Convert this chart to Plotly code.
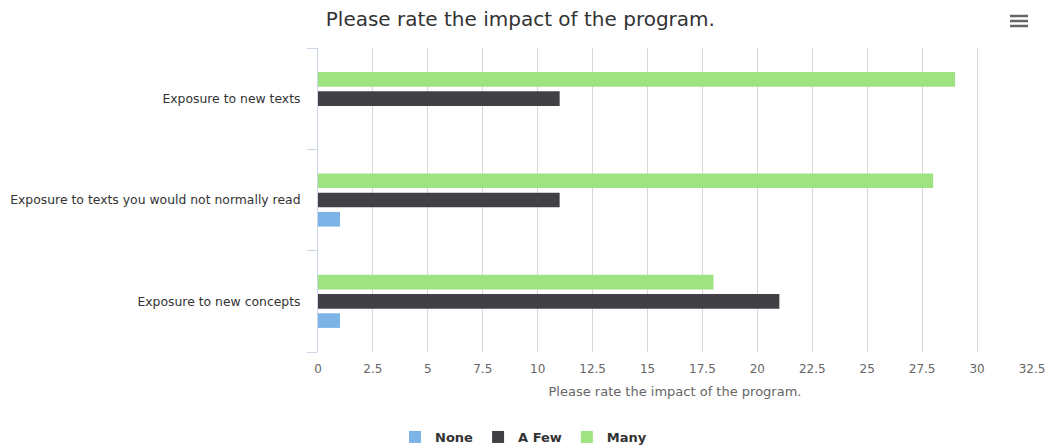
import plotly.graph_objects as go

categories = ["Exposure to new texts",
              "Exposure to texts you would not normally read",
              "Exposure to new concepts"]
series_names = ["None", "A Few", "Many"]
none_vals = [0, 1, 1]
afew_vals = [11, 11, 21]
many_vals = [29, 28, 18]
colors = ["#7db4e8", "#404045", "#9fe281"]
x_ticks = [0, 2.5, 5, 7.5, 10, 12.5, 15, 17.5, 20, 22.5, 25, 27.5, 30, 32.5]
x_tick_labels = ["0", "2.5", "5", "7.5", "10", "12.5", "15", "17.5", "20",
                 "22.5", "25", "27.5", "30", "32.5"]
title_text = "Please rate the impact of the program."

FONT = "DejaVu Sans"
fig = go.Figure()
for name, vals, col in zip(series_names, [none_vals, afew_vals, many_vals], colors):
    fig.add_trace(go.Bar(y=categories, x=vals, name=name, orientation="h",
                         marker=dict(color=col, line=dict(width=0)),
                         hoverinfo="x+name"))

L, R, T, B = 318, 15, 48, 96
W, H = 1047, 448
pw, ph = W - L - R, H - T - B

def px_x(x):
    return (x - L) / pw

def px_y(y):
    return (H - B - y) / ph

shapes = []
for yy in (16, 21, 26):
    shapes.append(dict(type="line", xref="paper", yref="paper",
                       x0=px_x(1010), x1=px_x(1028), y0=px_y(yy), y1=px_y(yy),
                       line=dict(color="#666666", width=2.5)))

fig.update_layout(
    width=W, height=H,
    margin=dict(l=L, r=R, t=T, b=B, autoexpand=False),
    paper_bgcolor="white", plot_bgcolor="white",
    font=dict(family=FONT, color="#666666", size=12),
    title=dict(text=title_text, x=0.497, xref="container", xanchor="center",
               y=1 - 19 / H, yref="container", yanchor="middle",
               font=dict(size=20, color="#333333", family=FONT)),
    barmode="group", bargap=0.43, bargroupgap=0.24,
    showlegend=True,
    legend=dict(orientation="h", x=0.5, xref="container", xanchor="center",
                y=1 - 437 / H, yref="container", yanchor="middle",
                traceorder="normal", itemwidth=30,
                font=dict(size=13, color="#333333", family=FONT, weight="bold")),
    xaxis=dict(range=[0, 32.5], tickvals=x_ticks, ticktext=x_tick_labels,
               automargin=False,
               showgrid=True, gridcolor="#d8d8d8", gridwidth=1,
               zeroline=False, showline=False, ticks="",
               ticklabelstandoff=8,
               tickfont=dict(size=12, color="#666666"),
               title=dict(text=title_text, standoff=11,
                          font=dict(size=13, color="#666666"))),
    yaxis=dict(categoryorder="array", categoryarray=categories[::-1],
               automargin=False,
               showgrid=False, zeroline=False,
               showline=True, linecolor="#ccd6eb", linewidth=1,
               ticks="outside", tickson="boundaries", ticklen=10,
               tickcolor="#ccd6eb", tickwidth=1,
               tickfont=dict(size=12.4, color="#333333"), ticklabelstandoff=14),
    shapes=shapes,
)
fig.write_html("out.html", config={"displayModeBar": False},
               post_script="document.body.style.margin='0';document.body.style.overflow='hidden';")
